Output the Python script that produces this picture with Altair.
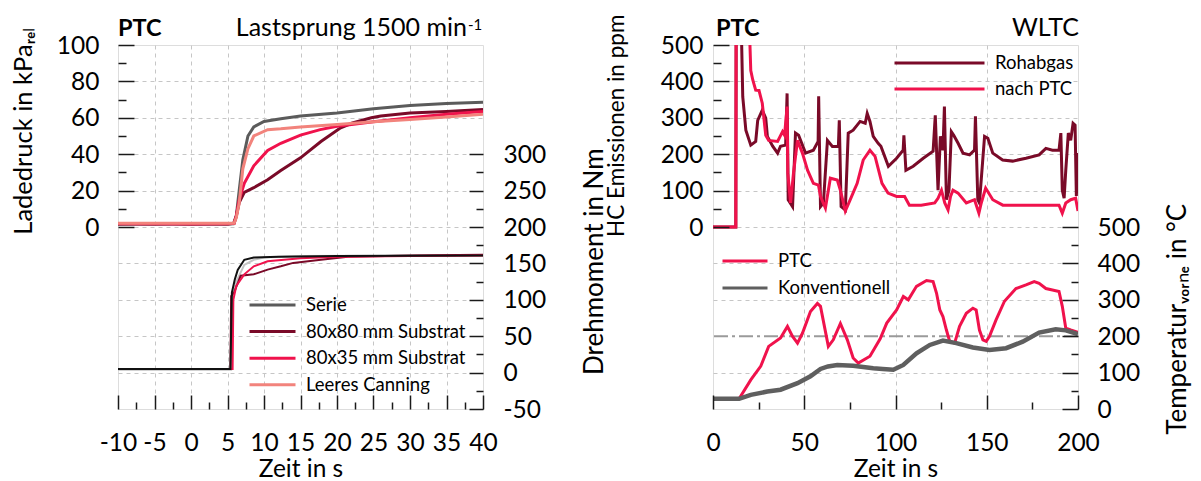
import altair as alt
import pandas as pd

FONT = "Lato"
FS = 24.5
W, H = 365, 364

# ---------------- Left panel: Ladedruck (kPa_rel) ----------------
lade_series = ["Serie", "80x80 mm Substrat", "80x35 mm Substrat", "Leeres Canning"]
lade_colors = ["#5b5b5b", "#7a0a28", "#f0124c", "#f2837c"]

serie_t = [-10, -5, 0, 5, 5.8, 6.2, 6.6, 7.1, 7.8, 8.6, 10, 12.3, 15, 20, 25, 30, 35, 40]
serie_v = [1.5, 1.8, 1.5, 1.7, 1.8, 6, 20, 37, 50, 55, 58, 59.5, 61, 62.7, 65, 66.7, 67.8, 68.6]

s80_t = [-10, -5, 0, 5, 5.9, 6.2, 6.6, 7.3, 8.6, 10.5, 12.3, 15, 17.8, 20.5, 22, 24.7, 26, 30, 35, 40]
s80_v = [1.8, 1.6, 1.9, 1.7, 2, 6, 13.4, 19, 21.6, 26, 31, 38, 47, 54.5, 57, 60, 61, 62.7, 63.5, 64.5]

s35_t = [-10, -5, 0, 5, 5.9, 6.2, 6.6, 7.3, 8.6, 10.5, 12.3, 15, 17.7, 20, 22, 25, 30, 35, 40]
s35_v = [1.8, 1.8, 1.6, 1.8, 2, 6, 15, 24, 33.6, 42, 46, 50.5, 53.5, 55.3, 56.3, 57.8, 60, 62, 63.5]

leer_t = [-10, -5, 0, 5, 5.9, 6.2, 6.6, 7.1, 7.8, 8.6, 10.5, 12.3, 15, 20, 25, 30, 35, 40]
leer_v = [2, 2, 2, 2, 2, 5, 13, 32, 43, 50, 53.5, 54, 55, 56.3, 57.8, 59, 60.5, 62]

# ---------------- Left panel: Drehmoment (Nm) ----------------
torque_series = ["Leeres M", "80x80 M", "80x35 M", "Serie M"]
torque_colors = ["#c4c4c4", "#7a0a28", "#f0124c", "#111111"]

lgray_t = [-10, 5.5, 5.7, 6.2, 7.3, 8.6, 10, 15, 25, 40]
lgray_v = [4, 4, 105, 125, 148, 155, 158, 160, 160.5, 161]
dred_t = [-10, 5.4, 5.5, 5.9, 6.8, 8.6, 10.5, 12.3, 14, 17.8, 21.5, 30, 40]
dred_v = [5, 5, 105, 110, 133, 135, 141.5, 146, 150.7, 155, 159, 161, 162]
crim_t = [-10, 5.7, 5.8, 6.2, 7.3, 8.6, 10.5, 15, 20, 30, 40]
crim_v = [5, 5, 100, 119, 135, 146, 153, 157, 159, 160, 161]
black_t = [-10, 5.4, 5.6, 6.0, 6.4, 7.3, 8.6, 12, 20, 30, 40]
black_v = [5, 5, 110, 128, 141, 155, 158, 159, 160, 160.5, 161]

# ---------------- Right panel: HC Emissionen (ppm) ----------------
hc_series = ["Rohabgas", "nach PTC"]
hc_colors = ["#7a0a28", "#f0124c"]

roh_t = [0, 12.5, 12.7, 15.3, 16.3, 18, 20.7, 23.4, 24.5, 27, 28.9, 29.8, 32.7, 35.4, 37, 39.8,
         40.6, 41.2, 43.6, 45.2, 46.9, 50.7, 55, 57.6, 57.9, 58.9, 60.5, 62.7, 65.4, 68.7, 69.2,
         70.2, 72.5, 74.1, 76.8, 80.6, 83.4, 84.5, 86, 87.8, 90.5, 92, 96.1, 100.6, 104.2, 104.6,
         105.7, 109.7, 115.2, 120.6, 121.8, 123.3, 124.6, 126, 126.8, 127.9, 129.3, 130.6, 131.9,
         134.3, 137, 140.6, 143.3, 143.8, 145.1, 146, 148.8, 150.6, 153.3, 158.7, 164.2, 171.5,
         178.7, 182.4, 186, 189.6, 190.6, 191.4, 192.4, 193.3, 194.7, 196, 197.3, 198.4, 199.1, 200]
roh_v = [0, 0, 600, 600, 358, 266, 225, 235, 293, 321, 299, 249, 222, 203, 222, 225,
         367, 75, 56, 258, 252, 203, 211, 235, 359, 56, 66, 238, 221, 221, 293,
         56, 47, 258, 266, 290, 285, 312, 290, 249, 230, 222, 167, 189, 211, 252,
         156, 167, 189, 208, 307, 101, 249, 211, 331, 75, 101, 262, 252,
         230, 203, 198, 211, 304, 75, 66, 249, 244, 203, 184, 181, 189,
         198, 216, 211, 211, 258, 101, 79, 156, 258, 238, 285, 280, 85, 203]

ptc_t = [0, 12.5, 12.7, 19.6, 20.7, 21.8, 23.4, 25.2, 27, 28.9, 30.5, 35.4, 38.1, 39.2, 40.6,
         41, 42.5, 44.1, 46.3, 49, 51.8, 55, 57.8, 58.9, 61.6, 64.3, 68.1, 69.8, 72.5, 75.2, 79,
         82.3, 86, 88.8, 92.6, 95.9, 100.6, 105, 107.6, 114.1, 121.5, 123.3, 125.2, 127, 128.8,
         130.2, 131.5, 134.3, 138.8, 143.3, 145.7, 147, 149.4, 153.3, 158.8, 173.3, 189.6, 191.4,
         193.3, 196, 198.7, 200]
ptc_v = [0, 0, 600, 600, 430, 404, 376, 375, 340, 252, 238, 235, 262, 252, 331,
         148, 66, 148, 238, 203, 156, 120, 115, 84, 52, 134, 129, 101, 44, 75, 120,
         184, 211, 194, 120, 93, 84, 84, 60, 60, 66, 79, 101, 66, 47,
         85, 101, 93, 66, 75, 38, 66, 107, 75, 60, 60, 60, 38,
         66, 75, 79, 44]

# ---------------- Right panel: Temperatur vorne (°C) ----------------
temp_series = ["PTC", "Konventionell"]
temp_colors = ["#f0124c", "#5f5f5f"]

tptc_t = [0, 14.3, 20.7, 26.2, 30.5, 37, 40.8, 43.5, 46.3, 49, 53.4, 57.2, 58.9, 63.2, 65.9,
          69.8, 73.6, 76.8, 79.6, 86, 91.6, 95.2, 100.6, 104.3, 107, 111.5, 117, 120.6, 122.5,
          124.3, 126, 127.9, 129.7, 132.4, 135.1, 138.8, 142.4, 144.2, 146, 147.9, 149.7, 151.5,
          155.1, 159.7, 166, 171.5, 176, 178.7, 182.4, 186, 189.6, 191.4, 193.3, 196, 200]
tptc_v = [28, 28, 80, 118, 172, 195, 227, 200, 181, 208, 268, 290, 282, 172, 190,
          235, 190, 140, 126, 145, 193, 236, 272, 309, 300, 337, 353, 350, 318,
          272, 254, 217, 186, 181, 227, 263, 277, 272, 217, 190, 186, 200,
          245, 296, 331, 341, 350, 345, 331, 327, 323, 282, 222, 217, 211]

tkon_t = [0, 14.3, 20.7, 29.8, 37, 46.3, 53.4, 58.9, 63, 68.1, 76.8, 87.8, 93, 98.8, 104.3,
          111.5, 118.8, 126, 133.3, 142.4, 151.5, 160.6, 169.7, 178.7, 187.8, 193.3, 200]
tkon_v = [28, 28, 39, 48, 53, 71, 90, 110, 117, 121, 119, 112, 110, 108, 121,
          153, 176, 188, 181, 169, 162, 167, 185, 210, 219, 216, 206]

ref_temp = [200]

# ---------------- tables ----------------
def frame(name, ts, vs):
    return pd.DataFrame({"t": ts, "v": vs, "s": name})

lade_df = pd.concat([frame(lade_series[0], serie_t, serie_v), frame(lade_series[1], s80_t, s80_v),
                     frame(lade_series[2], s35_t, s35_v), frame(lade_series[3], leer_t, leer_v)])
torque_df = pd.concat([frame(torque_series[0], lgray_t, lgray_v), frame(torque_series[1], dred_t, dred_v),
                       frame(torque_series[2], crim_t, crim_v), frame(torque_series[3], black_t, black_v)])
hc_df = pd.concat([frame(hc_series[0], roh_t, roh_v), frame(hc_series[1], ptc_t, ptc_v)])
temp_df = pd.concat([frame(temp_series[0], tptc_t, tptc_v), frame(temp_series[1], tkon_t, tkon_v)])
temp_df["w"] = temp_df["s"].map({"PTC": 3.0, "Konventionell": 4.5})
ref_df = pd.DataFrame({"v": ref_temp})
one = pd.DataFrame({"k": [0]})


def sc(lo, hi):
    return alt.Scale(domain=[lo, hi], nice=False, zero=False)


def tick_axis(values, orient, size, labels=False, pad=0, loff=0, title=None, tpad=0):
    return alt.Axis(values=values, orient=orient, offset=-size, tickSize=size, tickWidth=1.5,
                    tickColor="#1a1a1a", domain=False, grid=False, labels=labels, labelFont=FONT,
                    labelFontSize=FS, labelColor="black", labelPadding=pad, labelOffset=loff,
                    labelExpr="'' + datum.value", labelOverlap=False, labelFlush=False,
                    title=title, titleFont=FONT, titleFontSize=FS, titleFontWeight="normal",
                    titleColor="black", titlePadding=tpad, zindex=1)


def grid_axis(values, orient):
    return alt.Axis(values=values, orient=orient, grid=True, gridDash=[4, 4], gridColor="#c6c6c6",
                    gridWidth=1, ticks=False, labels=False, domain=False, title=None, zindex=0)


def legend(x, y, size, rowpad):
    return alt.Legend(orient="none", legendX=x, legendY=y, title=None, symbolType="stroke",
                      symbolSize=size * size, symbolStrokeWidth=3, labelFont=FONT, labelFontSize=18.5,
                      labelColor="black", labelOffset=9, rowPadding=rowpad, padding=0,
                      clipHeight=18, direction="vertical")


def text(s, x, y, size=FS, angle=0, align="left", weight="normal", baseline="alphabetic"):
    return alt.Chart(one).mark_text(text=s, font=FONT, fontSize=size, angle=angle, align=align,
                                    baseline=baseline, fontWeight=weight, color="black").encode(
        x=alt.value(x), y=alt.value(y))


# invisible corner that fixes where the plot sits on the page
spacer = alt.Chart(one).mark_rule(strokeOpacity=0, strokeWidth=0).encode(
    x=alt.value(-109.5), x2=alt.value(-100), y=alt.value(-34), y2=alt.value(-34))

# ---------------- Left panel ----------------
xL = lambda: sc(-10, 40)
lade_lines = alt.Chart(lade_df).mark_line(strokeWidth=3, clip=True).encode(
    x=alt.X("t:Q", scale=xL(), axis=tick_axis(list(range(-10, 41, 5)), "bottom", 14, labels=True,
                                              pad=22, title="Zeit in s", tpad=3)),
    y=alt.Y("v:Q", scale=sc(-100, 100), axis=tick_axis([0, 20, 40, 60, 80, 100], "left", 16,
                                                      labels=True, pad=19, loff=1)),
    color=alt.Color("s:N", scale=alt.Scale(domain=lade_series, range=lade_colors),
                    legend=legend(130, 251, 46, 7.6)),
)
torque_lines = alt.Chart(torque_df).mark_line(strokeWidth=2, clip=True).encode(
    x=alt.X("t:Q", scale=xL(), axis=None),
    y=alt.Y("v:Q", scale=sc(-50, 450), axis=tick_axis(list(range(-50, 301, 50)), "right", 14,
                                                     labels=True, pad=20, loff=1)),
    color=alt.Color("s:N", scale=alt.Scale(domain=torque_series, range=torque_colors), legend=None),
)
left_minor = alt.Chart(lade_df).mark_point(opacity=0, size=0).encode(
    x=alt.X("t:Q", scale=xL(), axis=tick_axis([-7.5 + 5 * i for i in range(10)], "bottom", 7)),
    y=alt.Y("v:Q", scale=sc(-100, 100), axis=tick_axis([10, 30, 50, 70, 90], "left", 8)),
)
right_minor = alt.Chart(torque_df).mark_point(opacity=0, size=0).encode(
    x=alt.X("t:Q", scale=xL(), axis=grid_axis(list(range(-5, 40, 5)), "bottom")),
    y=alt.Y("v:Q", scale=sc(-50, 450), axis=tick_axis(list(range(-25, 276, 50)), "right", 7)),
)
left_grid = alt.Chart(lade_df).mark_point(opacity=0, size=0).encode(
    x=alt.X("t:Q", scale=xL(), axis=None),
    y=alt.Y("v:Q", scale=sc(-100, 100), axis=grid_axis(list(range(-80, 81, 20)), "left")),
)
left = alt.layer(
    spacer, left_grid, left_minor, right_minor, torque_lines, lade_lines,
    text("PTC", 0, -8.7, size=23.5, weight="bold"),
    text("Lastsprung 1500 min", 349, -9, size=25, align="right"),
    text("-1", 350, -15.5, size=15),
    text("Ladedruck in kPa\u1d63\u2091\u2097", -86, 189.7, size=25.5, angle=270),
    text("Drehmoment in Nm", 484.7, 330, size=26, angle=270),
).resolve_scale(x="independent", y="independent", color="independent").properties(width=W, height=H)

# ---------------- Right panel ----------------
xR = lambda: sc(0, 200)
hc_lines = alt.Chart(hc_df).mark_line(strokeWidth=3, clip=True).encode(
    x=alt.X("t:Q", scale=xR(), axis=tick_axis(list(range(0, 201, 50)), "bottom", 14, labels=True,
                                              pad=22, title="Zeit in s", tpad=3)),
    y=alt.Y("v:Q", scale=sc(-500, 500), axis=tick_axis(list(range(0, 501, 100)), "left", 16,
                                                      labels=True, pad=10, loff=1)),
    color=alt.Color("s:N", scale=alt.Scale(domain=hc_series, range=hc_colors),
                    legend=legend(180, 9, 90, 7)),
)
temp_lines = alt.Chart(temp_df).mark_line(clip=True).encode(
    x=alt.X("t:Q", scale=xR(), axis=None),
    y=alt.Y("v:Q", scale=sc(0, 1000), axis=tick_axis(list(range(0, 501, 100)), "right", 16,
                                                    labels=True, pad=19, loff=1)),
    color=alt.Color("s:N", scale=alt.Scale(domain=temp_series, range=temp_colors),
                    legend=legend(8, 207, 45, 8)),
    strokeWidth=alt.StrokeWidth("w:Q", scale=None, legend=None),
)
ref_line = alt.Chart(ref_df).mark_rule(color="#9a9a9a", strokeWidth=2, strokeDash=[14, 4, 3, 4]).encode(
    y=alt.Y("v:Q", scale=sc(0, 1000), axis=None),
)
hc_minor = alt.Chart(hc_df).mark_point(opacity=0, size=0).encode(
    x=alt.X("t:Q", scale=xR(), axis=tick_axis([25, 75, 125, 175], "bottom", 7)),
    y=alt.Y("v:Q", scale=sc(-500, 500), axis=tick_axis(list(range(50, 451, 100)), "left", 8)),
)
temp_minor = alt.Chart(temp_df).mark_point(opacity=0, size=0).encode(
    x=alt.X("t:Q", scale=xR(), axis=grid_axis([50, 100, 150], "bottom")),
    y=alt.Y("v:Q", scale=sc(0, 1000), axis=tick_axis(list(range(50, 451, 100)), "right", 7)),
)
hc_grid = alt.Chart(hc_df).mark_point(opacity=0, size=0).encode(
    x=alt.X("t:Q", scale=xR(), axis=None),
    y=alt.Y("v:Q", scale=sc(-500, 500),
            axis=grid_axis([-400, -200, -100, 0, 100, 200, 300, 400], "left")),
)
right = alt.layer(
    hc_grid, hc_minor, temp_minor, ref_line, temp_lines, hc_lines,
    text("PTC", 3, -9, size=23.5, weight="bold"),
    text("WLTC", 366, -9, size=25, align="right"),
    text("HC Emissionen in ppm", -88.7, 192, size=22.5, angle=270),
    text("Temperatur\u1d65\u2092\u1d63\u2099\u2091 in °C", 473, 389.7, size=26, angle=270),
).resolve_scale(x="independent", y="independent", color="independent").properties(width=W, height=H)

chart = alt.hconcat(left, right, spacing=230, bounds="flush").properties(
    padding={"left": 0, "top": 0, "right": 0, "bottom": 0}
).configure_view(stroke="black", strokeWidth=1.5).configure(font=FONT)

chart.save("out.html", embed_options={"renderer": "svg", "actions": False})
